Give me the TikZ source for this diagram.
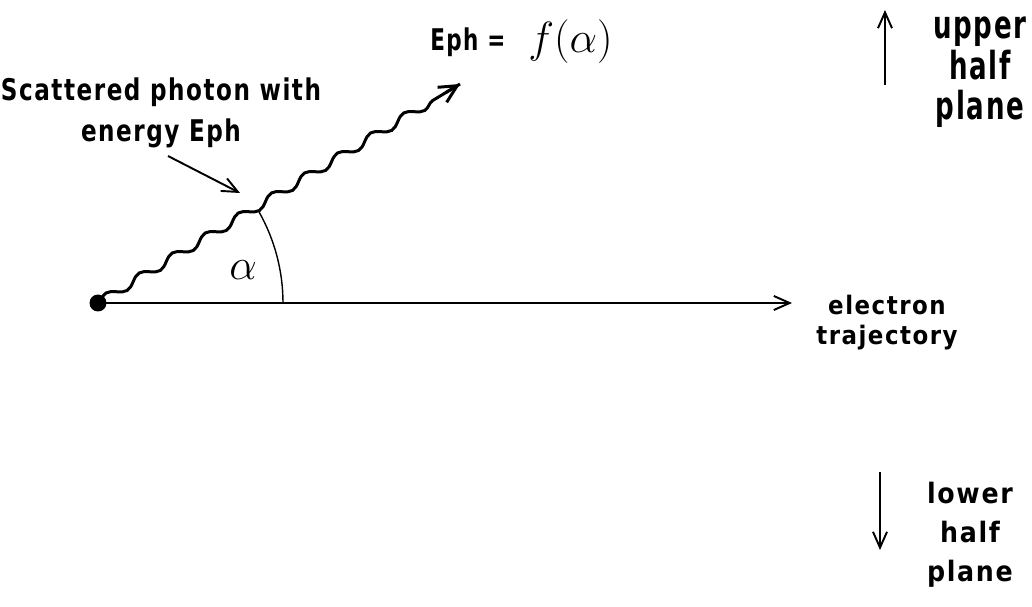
\documentclass[tikz,border=0pt]{standalone}
\usepackage{fontspec}
\newfontfamily\labfont{DejaVu Sans Condensed}[BoldFont={* Bold}, LetterSpace=6]
\usepackage{tikz}
\usetikzlibrary{arrows.meta, decorations.pathmorphing, calc}

\begin{document}
\begin{tikzpicture}[
  x=0.02cm, y=0.02cm,
  lab/.style={font=\labfont\bfseries, align=center, inner sep=0pt, transform shape},
  thinarrow/.style={line width=1.1pt, -{Straight Barb[length=9pt, width=8pt, line width=1.1pt]}},
]
\useasboundingbox (0,0) rectangle (1032,606);

% electron and its trajectory
\node[circle, fill, inner sep=0pt, minimum size=0.34cm] (el) at (98,303) {};
\coordinate (elend) at (792,303);
\draw[thinarrow, line width=1.5pt] (el.center) -- (elend);
\node[lab, font=\labfont\bfseries\fontsize{14.5}{17}\selectfont] (traj) at (887,283) {electron\\trajectory};

% scattered photon
\coordinate (phend) at (460,522);
\draw[line width=1.7pt, decorate, decoration={snake, segment length=22, amplitude=2.5, post length=16}]
  (el.center) -- (phend);
\draw[line width=1.7pt, -{Straight Barb[length=10pt, width=10pt, line width=1.7pt]}]
  ($(el.center)!0.96!(phend)$) -- (phend);

% angle
\draw[line width=0.8pt] (283,303) arc[start angle=0, end angle=29.5, radius=185];
\node[font=\fontsize{29}{29}\selectfont] (alpha) at (243,336) {$\alpha$};

% labels
\node[lab, xscale=0.86, font=\labfont\bfseries\fontsize{17}{23}\selectfont] (scat) at (161,493) {Scattered photon with\\energy Eph};
\coordinate (ptrstart) at (168,450);
\coordinate (ptrend) at (240,413);
\draw[line width=1.1pt, -{Straight Barb[length=9pt, width=8pt, line width=1.1pt]}] (ptrstart) -- (ptrend);

\node[lab, xscale=0.8, font=\labfont\bfseries\fontsize{17}{21}\selectfont, anchor=west] (eph) at (430,564) {Eph =};
\node[font=\fontsize{30}{30}\selectfont, anchor=west, inner sep=0pt] (func) at (528,564) {$f(\alpha)$};

% half planes
\coordinate (uptop) at (885,596);
\coordinate (upbot) at (885,521);
\draw[thinarrow] (upbot) -- (uptop);
\node[lab, xscale=0.75, font=\labfont\bfseries\fontsize{22}{23}\selectfont, anchor=north] (upper) at (980,589) {upper\\half\\plane};

\coordinate (lowtop) at (880,134);
\coordinate (lowbot) at (880,56);
\draw[thinarrow] (lowtop) -- (lowbot);
\node[lab, font=\labfont\bfseries\fontsize{16}{22}\selectfont, anchor=north] (lower) at (970,124) {lower\\half\\plane};
\end{tikzpicture}
\end{document}
